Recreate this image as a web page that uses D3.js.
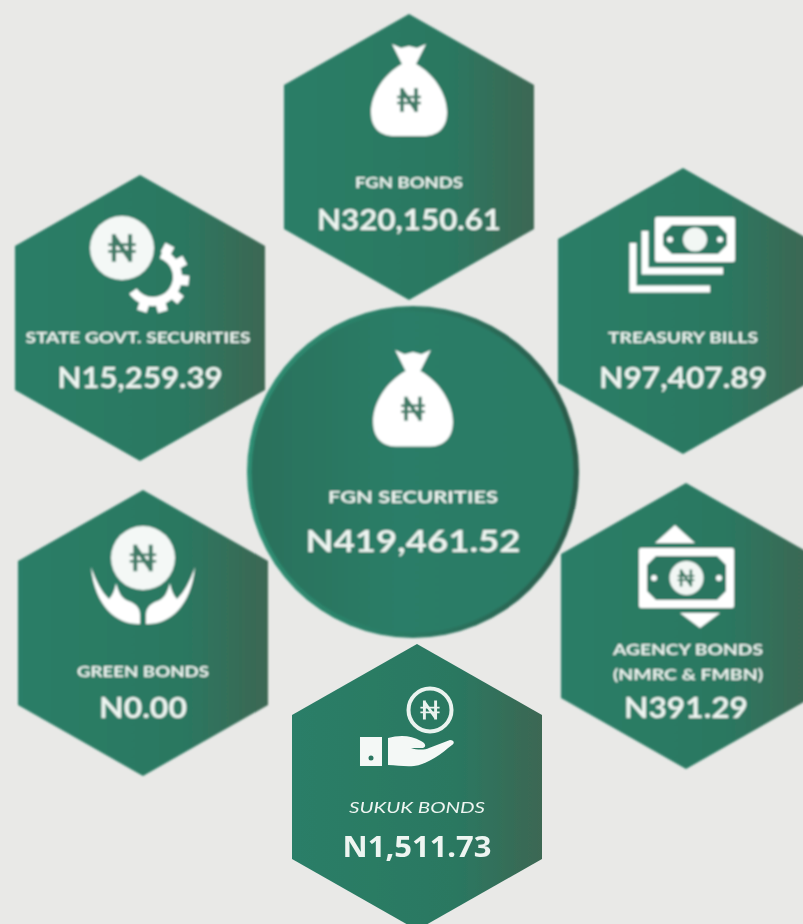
<!DOCTYPE html>
<html>
<head>
<meta charset="utf-8">
<script src="https://d3js.org/d3.v7.min.js"></script>
<style>
  html, body { margin: 0; padding: 0; background: #e9e9e7; }
  text { font-family: Lato, "Open Sans", sans-serif; fill: #eef5f1; text-anchor: middle; }
</style>
</head>
<body>
<div id="chart"></div>
<script>
// data
var categories = ["FGN BONDS", "STATE GOVT. SECURITIES", "TREASURY BILLS", "GREEN BONDS", "AGENCY BONDS", "SUKUK BONDS"];
var subLabels = ["", "", "", "", "(NMRC & FMBN)", ""];
var values = [320150.61, 15259.39, 97407.89, 0.00, 391.29, 1511.73];
var totalLabel = "FGN SECURITIES";
var totalValue = 419461.52;

// layout, kept apart from the data
var centerX = [409, 140, 683, 143, 686, 417];
var centerY = [157, 318, 311, 633, 626, 787];
var iconNames = ["bag", "gear", "bills", "hands", "agency", "sukuk"];
var titleDy = [31, 25, 32, 44, 29, 26];
var valueDy = [73, 70, 77, 85, 92, 70];
var titleW = [108, 225, 150, 132, 150, 136];
var valueW = [184, 165, 168, 88, 124, 149];
var titleDx = [0, -2, 0, 0, 2, 0];

var width = 803, height = 924;
var dark = "#2a7660";

var fmt = d3.format(",.2f");
var xPos = d3.scaleOrdinal().domain(categories).range(centerX);
var yPos = d3.scaleOrdinal().domain(categories).range(centerY);

var svg = d3.select("#chart").append("svg")
  .attr("width", width)
  .attr("height", height)
  .style("display", "block");

var defs = svg.append("defs");

var hexGrad = defs.append("linearGradient").attr("id", "hexFill");
hexGrad.append("stop").attr("offset", "0%").attr("stop-color", "#2b7e67");
hexGrad.append("stop").attr("offset", "65%").attr("stop-color", "#2a7861");
hexGrad.append("stop").attr("offset", "100%").attr("stop-color", "#3c6753");

var rimGrad = defs.append("linearGradient").attr("id", "rimFill");
rimGrad.append("stop").attr("offset", "0%").attr("stop-color", "#2f8f74");
rimGrad.append("stop").attr("offset", "45%").attr("stop-color", "#2b7c65");
rimGrad.append("stop").attr("offset", "100%").attr("stop-color", "#2c5a4a");

var circGrad = defs.append("linearGradient").attr("id", "circFill");
circGrad.append("stop").attr("offset", "0%").attr("stop-color", "#29705b");
circGrad.append("stop").attr("offset", "45%").attr("stop-color", "#2c7d67");
circGrad.append("stop").attr("offset", "100%").attr("stop-color", "#2b7c65");

defs.append("filter").attr("id", "soft")
  .append("feGaussianBlur").attr("stdDeviation", 1.0);
defs.append("filter").attr("id", "softer")
  .append("feGaussianBlur").attr("stdDeviation", 0.5);

svg.append("rect").attr("width", width).attr("height", height).attr("fill", "#e9e9e7");

var root = svg.append("g");

// pointy top hexagon around 0,0
var hexPoints = [[0, -143], [125, -72], [125, 72], [0, 143], [-125, 72], [-125, -72]];
var hexLine = d3.line().curve(d3.curveLinearClosed);

var bagPath = "M-17,0 L-8,4 L0,2 L8,4 L17,0 L10,14 L7,20 C25,30 38,50 38,68 C38,85 28,92 14,92 " +
  "L-14,92 C-28,92 -38,85 -38,68 C-38,50 -25,30 -7,20 L-10,14 Z";

// little naira sign, drawn as strokes
function naira(g, x, y, s, color) {
  var n = g.append("g").attr("transform", "translate(" + x + "," + y + ") scale(" + s + ")")
    .attr("fill", "none").attr("stroke", color).attr("stroke-width", 3.6);
  n.append("path").attr("d", "M-7,12 V-12 M7,12 V-12 M-7,-10 L7,10");
  n.append("path").attr("d", "M-12,-3 H12 M-12,3 H12").attr("stroke-width", 2.4);
}

function bag(g, x, y, s) {
  g.append("path").attr("d", bagPath).attr("fill", "#fff")
    .attr("transform", "translate(" + x + "," + y + ") scale(" + s + ")");
  naira(g, x, y + 56 * s, 1, "#3f7a66");
}

function bill(g, x, y, w, h, r) {
  g.append("rect").attr("x", x).attr("y", y).attr("width", w).attr("height", h).attr("rx", 2).attr("fill", "#fff");
  var n = 9, m = 8;
  var pts = [[x + m + n, y + m], [x + w - m - n, y + m], [x + w - m, y + m + n], [x + w - m, y + h - m - n],
    [x + w - m - n, y + h - m], [x + m + n, y + h - m], [x + m, y + h - m - n], [x + m, y + m + n]];
  g.append("path").attr("d", hexLine(pts)).attr("fill", dark);
  g.append("circle").attr("cx", x + w / 2).attr("cy", y + h / 2).attr("r", r).attr("fill", "#f2f7f4");
  g.append("circle").attr("cx", x + m + 7).attr("cy", y + h / 2).attr("r", 3).attr("fill", "#fff");
  g.append("circle").attr("cx", x + w - m - 7).attr("cy", y + h / 2).attr("r", 3).attr("fill", "#fff");
}

var icons = {
  bag: function(g) { bag(g, 0, -113, 1); },
  gear: function(g) {
    g.append("circle").attr("cx", -18).attr("cy", -70).attr("r", 32).attr("fill", "#f4f8f6");
    naira(g, -18, -70, 1.15, "#3f7a66");
    var gear = g.append("g").attr("transform", "translate(13,-41)");
    var start = 20 * Math.PI / 180, end = 235 * Math.PI / 180;
    gear.append("path").attr("fill", "#fff")
      .attr("d", d3.arc().innerRadius(20).outerRadius(29).startAngle(start).endAngle(end)());
    d3.range(28, 232, 34).forEach(function(a) {
      gear.append("rect").attr("x", -5).attr("y", -36).attr("width", 10).attr("height", 10).attr("fill", "#fff")
        .attr("transform", "rotate(" + a + ")");
    });
  },
  bills: function(g) {
    g.append("path").attr("fill", "none").attr("stroke", "#fff").attr("stroke-width", 7)
      .attr("d", "M-38,-80 V-40 H40 M-50,-68 V-22 H27");
    bill(g, -28, -94, 80, 45, 12);
  },
  hands: function(g) {
    g.append("circle").attr("cx", 0).attr("cy", -75).attr("r", 32).attr("fill", "#f4f8f6");
    naira(g, 0, -75, 1.1, "#3f7a66");
    [-1, 1].forEach(function(side) {
      g.append("path").attr("fill", "#fff").attr("transform", "scale(" + side + ",1)")
        .attr("d", "M3,-9 C25,-8 48,-25 52,-66 C46,-50 42,-42 34,-34 C30,-38 28,-44 27,-50 " +
          "C24,-40 22,-34 12,-31 C6,-28 3,-24 3,-18 Z");
    });
  },
  agency: function(g) {
    g.append("path").attr("fill", "#fff").attr("d", hexLine([[-11, -101], [9, -83], [-31, -83]]));
    g.append("path").attr("fill", "#fff").attr("d", hexLine([[14, 2], [34, -13], [-6, -13]]));
    bill(g, -47, -78, 95, 60, 17);
    naira(g, 0, -48, 0.7, "#3f7a66");
  },
  sukuk: function(g) {
    g.append("circle").attr("cx", 13).attr("cy", -77).attr("r", 21.5).attr("fill", "none")
      .attr("stroke", "#eaf3ef").attr("stroke-width", 4);
    naira(g, 13, -77, 0.8, "#eaf3ef");
    g.append("rect").attr("x", -57).attr("y", -50).attr("width", 22).attr("height", 29).attr("fill", "#f4f8f6");
    g.append("circle").attr("cx", -46).attr("cy", -29).attr("r", 2.5).attr("fill", dark);
    g.append("path").attr("fill", "#f4f8f6")
      .attr("d", "M-29,-49 C-18,-52 -6,-52 4,-46 C8,-44 10,-41 6,-39 L-6,-39 C0,-37 8,-37 12,-39 " +
        "L33,-47 C37,-47 38,-44 35,-42 C25,-34 12,-23 -3,-21 C-12,-20 -20,-22 -29,-22 Z");
  }
};

var hexes = root.selectAll("g.hex")
  .data(categories)
  .enter()
  .append("g")
  .attr("class", "hex")
  .attr("transform", function(d) { return "translate(" + xPos(d) + "," + yPos(d) + ")"; })
  .attr("filter", function(d) { return d === "SUKUK BONDS" ? "url(#softer)" : "url(#soft)"; });

hexes.append("path")
  .attr("d", hexLine(hexPoints))
  .attr("fill", "url(#hexFill)");

hexes.each(function(d, i) {
  var g = d3.select(this);
  icons[iconNames[i]](g);
  var isSukuk = d === "SUKUK BONDS";
  g.append("text")
    .attr("x", titleDx[i])
    .attr("y", titleDy[i])
    .attr("font-size", 16)
    .attr("font-weight", isSukuk ? 400 : 700)
    .attr("font-style", isSukuk ? "italic" : "normal")
    .attr("textLength", titleW[i])
    .attr("lengthAdjust", "spacingAndGlyphs")
    .text(d);
  if (subLabels[i]) {
    g.append("text")
      .attr("x", titleDx[i])
      .attr("y", titleDy[i] + 25)
      .attr("font-size", 15)
      .attr("font-weight", 700)
      .attr("textLength", titleW[i])
      .attr("lengthAdjust", "spacingAndGlyphs")
      .text(subLabels[i]);
  }
  g.append("text")
    .attr("y", valueDy[i])
    .attr("font-size", 28)
    .attr("font-weight", 700)
    .style("font-family", isSukuk ? "'Noto Sans', sans-serif" : null)
    .attr("textLength", valueW[i])
    .attr("lengthAdjust", "spacingAndGlyphs")
    .text("N" + fmt(values[i]));
});

// centre circle, drawn last so it sits over the hexagons
var mid = root.append("g").attr("transform", "translate(413,472)").attr("filter", "url(#soft)");
mid.append("circle").attr("r", 166).attr("fill", "url(#rimFill)");
mid.append("circle").attr("cx", -0.5).attr("r", 161).attr("fill", "url(#circFill)");
bag(mid, 0, -122, 1.05);
mid.append("text").attr("y", 31).attr("font-size", 17).attr("font-weight", 700)
  .attr("textLength", 170).attr("lengthAdjust", "spacingAndGlyphs").text(totalLabel);
mid.append("text").attr("y", 80).attr("font-size", 31).attr("font-weight", 700)
  .attr("textLength", 215).attr("lengthAdjust", "spacingAndGlyphs").text("N" + fmt(totalValue));
</script>
</body>
</html>
